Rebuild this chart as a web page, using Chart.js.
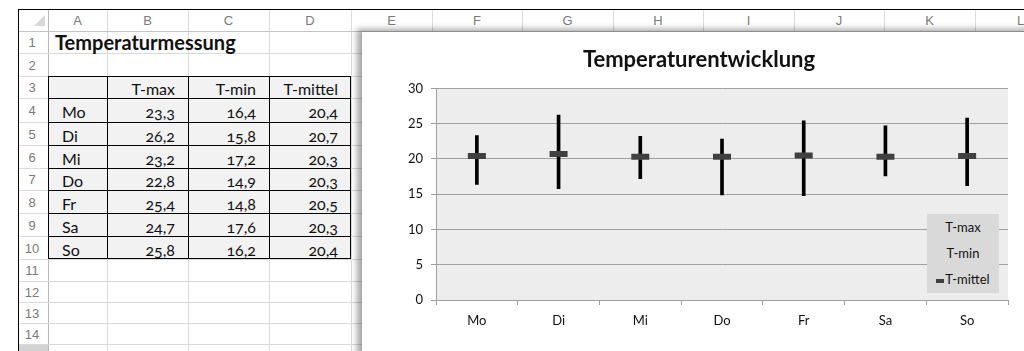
<!DOCTYPE html>
<html lang="de">
<head>
<meta charset="utf-8">
<script src="https://cdn.jsdelivr.net/npm/chart.js@4.4.1/dist/chart.umd.min.js"></script>
<style>
  html, body { margin: 0; padding: 0; background: #fff; }
  body { width: 1024px; height: 351px; position: relative; overflow: hidden; font-family: Lato, "Noto Sans", sans-serif; }
  .ln { position: absolute; }
  .hdr { position: absolute; color: #7a7a7a; font: 13px "Liberation Sans", sans-serif; text-align: center; }
  .cell { position: absolute; font-size: 16px; color: #111; white-space: nowrap; box-sizing: border-box; }
  .num { text-align: right; padding-right: 13px; font-variant-numeric: oldstyle-nums; font-feature-settings: "onum" 1; }
  #chartBox { position: absolute; left: 362px; top: 32px; width: 674px; height: 330px; background: #fff;
              box-shadow: -5px -3px 6px rgba(0,0,0,0.35); }
  #legend { position: absolute; left: 927px; top: 214px; width: 72px; height: 79px; background: #d9d9d9;
            font: 13px Lato, sans-serif; color: #111; }
  #legend div { height: 26px; line-height: 26px; text-align: center; }
  #legend i { display: inline-block; width: 8px; height: 4px; background: #404040; vertical-align: middle; margin-right: 1px; }
</style>
</head>
<body>
<div id="sheet"></div>
<div id="chartBox"><canvas id="temp-chart" width="674" height="330"></canvas></div>
<div id="legend"></div>

<script>
const days    = ['Mo', 'Di', 'Mi', 'Do', 'Fr', 'Sa', 'So'];
const tMax    = [23.3, 26.2, 23.2, 22.8, 25.4, 24.7, 25.8];
const tMin    = [16.4, 15.8, 17.2, 14.9, 14.8, 17.6, 16.2];
const tMittel = [20.4, 20.7, 20.3, 20.3, 20.5, 20.3, 20.4];
const seriesNames = ['T-max', 'T-min', 'T-mittel'];
const yMin = 0, yMax = 30, yStep = 5;

// ── Tabelle ──
const colX = [18, 48, 107, 188, 269, 351, 432, 522, 613, 703, 794, 884, 975, 1066];
const rowY = [9, 31, 53, 76, 98, 122, 145, 168, 190, 213, 236, 259, 281, 302, 323, 344, 366];
const letters = 'ABCDEFGHIJKL';
const sheet = document.getElementById('sheet');

function add(cls, style, text) {
    const d = document.createElement('div');
    d.className = cls;
    Object.assign(d.style, style);
    if (text !== undefined) d.textContent = text;
    sheet.appendChild(d);
    return d;
}
const fmt = v => v.toLocaleString('de-DE', { minimumFractionDigits: 1 });

// Gitterlinien
for (let i = 1; i < colX.length; i++)
    add('ln', { left: colX[i] + 'px', top: rowY[0] + 'px', width: '1px', height: '360px', background: i === 1 ? '#b8b8b8' : '#dadada' });
for (let j = 1; j < rowY.length; j++)
    add('ln', { left: colX[0] + 'px', top: rowY[j] + 'px', width: '1010px', height: '1px', background: j === 1 ? '#c4c4c4' : '#dadada' });

// Kopfzeile und Zeilennummern
for (let i = 0; i < letters.length; i++)
    add('hdr', { left: colX[i + 1] + 'px', top: rowY[0] + 2 + 'px', width: colX[i + 2] - colX[i + 1] + 'px', lineHeight: '20px' }, letters[i]);
add('hdr', { left: colX[0] + 1 + 'px', top: rowY[rowY.length - 2] + 1 + 'px', width: '29px', height: '20px', background: '#d4d4d4' });
for (let r = 1; r <= 15; r++)
    add('hdr', { left: colX[0] + 'px', top: rowY[r] + 1 + 'px', width: '28px', lineHeight: (rowY[r + 1] - rowY[r]) + 'px' }, r);
// Eckdreieck
add('ln', { left: '34px', top: '15px', width: 0, height: 0, borderLeft: '11px solid transparent', borderBottom: '11px solid #d8d8d8' });

// Rahmen schwarz
add('ln', { left: colX[0] + 'px', top: rowY[0] + 'px', width: '1010px', height: '1px', background: '#000' });
add('ln', { left: colX[0] + 'px', top: rowY[0] + 'px', width: '1px', height: '360px', background: '#000' });

// Datenblock Zeile 3–10, Spalte A–D
const bx0 = colX[1], bx1 = colX[5], by0 = rowY[3], by1 = rowY[11];
add('ln', { left: bx0 + 'px', top: by0 + 'px', width: bx1 - bx0 + 'px', height: by1 - by0 + 'px', background: '#f2f2f2', border: '1px solid #000', boxSizing: 'border-box' });
for (let i = 2; i <= 4; i++)
    add('ln', { left: colX[i] + 'px', top: by0 + 'px', width: '1px', height: by1 - by0 + 'px', background: '#000' });
for (let j = 4; j <= 10; j++)
    add('ln', { left: bx0 + 'px', top: rowY[j] + 'px', width: bx1 - bx0 + 'px', height: '1px', background: '#000' });

add('cell', { left: '55px', top: rowY[1] + 'px', lineHeight: rowY[2] - rowY[1] + 'px', fontWeight: 'bold', fontSize: '20px' }, 'Temperaturmessung');

function rowCell(r, c, text, isNum) {
    const s = { left: colX[c] + 'px', top: rowY[r] + 2 + 'px', width: colX[c + 1] - colX[c] + 'px', lineHeight: rowY[r + 1] - rowY[r] + 'px' };
    if (!isNum) s.paddingLeft = '14px';
    add('cell' + (isNum ? ' num' : ''), s, text);
}
seriesNames.forEach((n, k) => rowCell(3, k + 2, n, true));
days.forEach((d, i) => {
    rowCell(4 + i, 1, d, false);
    rowCell(4 + i, 2, fmt(tMax[i]), true);
    rowCell(4 + i, 3, fmt(tMin[i]), true);
    rowCell(4 + i, 4, fmt(tMittel[i]), true);
});

// ── Legende ──
document.getElementById('legend').innerHTML = seriesNames.map((n, k) =>
    `<div>${k === 2 ? '<i></i>' : ''}${n}</div>`).join('');

// ── Diagramm ──
const plotBg = {
    id: 'plotBg',
    beforeDraw(c) {
        const { ctx, chartArea: a } = c;
        ctx.save();
        ctx.fillStyle = '#ededed';
        ctx.fillRect(a.left, a.top, a.right - a.left, a.bottom - a.top);
        ctx.restore();
    }
};

const gridGrey = '#a0a0a0';

new Chart(document.getElementById('temp-chart'), {
    data: {
        labels: days,
        datasets: [
            {
                type: 'bar',
                label: 'Spanne',
                data: days.map((_, i) => [tMin[i], tMax[i]]),
                backgroundColor: '#000',
                barThickness: 3,
                borderSkipped: false,
                order: 3,
            },
            { type: 'line', label: seriesNames[0], data: tMax, showLine: false, pointRadius: 0, order: 2 },
            { type: 'line', label: seriesNames[1], data: tMin, showLine: false, pointRadius: 0, order: 2 },
            {
                type: 'line',
                label: seriesNames[2],
                data: tMittel,
                showLine: false,
                pointStyle: 'line',
                pointRadius: 9,
                pointBorderWidth: 6,
                borderColor: '#404040',
                pointBorderColor: '#404040',
                order: 1,
            },
        ]
    },
    options: {
        responsive: false,
        animation: false,
        layout: { padding: { left: 28, right: 28, top: 0, bottom: 0 } },
        plugins: {
            legend: { display: false },
            tooltip: { enabled: false },
            title: {
                display: true,
                text: 'Temperaturentwicklung',
                color: '#111',
                font: { family: 'Lato', size: 22, weight: 'bold' },
                padding: { top: 15, bottom: 15 },
            }
        },
        scales: {
            x: {
                offset: true,
                grid: { offset: true, drawOnChartArea: false, tickLength: 5, color: gridGrey },
                border: { color: gridGrey },
                ticks: { color: '#111', padding: 8, font: { family: 'Lato', size: 13 } },
                afterFit: s => { s.height = 62; },
            },
            y: {
                min: yMin,
                max: yMax,
                grid: { color: gridGrey, tickLength: 5 },
                border: { color: gridGrey },
                ticks: { stepSize: yStep, color: '#111', padding: 8, font: { family: 'Lato', size: 13 } },
                afterFit: s => { s.width = 46; },
            }
        }
    },
    plugins: [plotBg]
});
</script>
</body>
</html>
